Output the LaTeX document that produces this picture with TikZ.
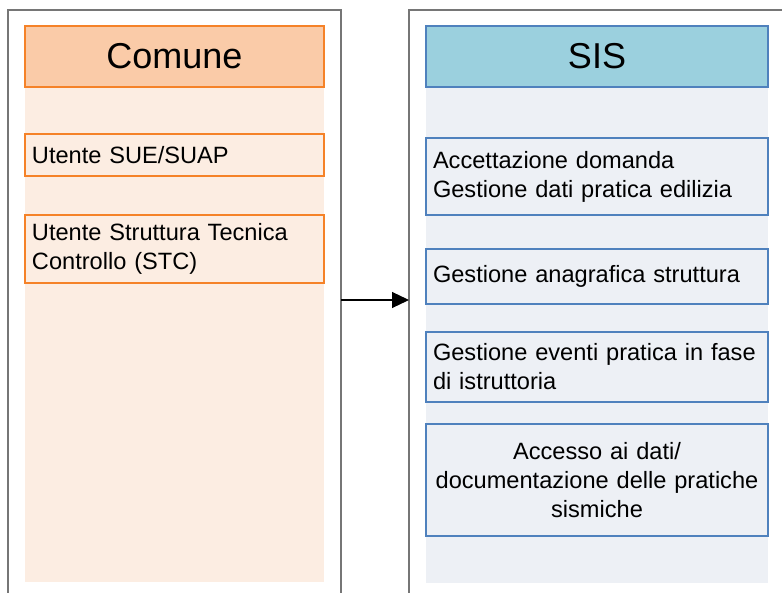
\documentclass[tikz,border=0pt]{standalone}
\usepackage{fontspec}
\setmainfont{Liberation Sans}
\usetikzlibrary{arrows.meta}

\definecolor{framegray}{RGB}{118,118,118}
\definecolor{orangeline}{RGB}{245,130,40}
\definecolor{orangehead}{RGB}{250,203,168}
\definecolor{orangebg}{RGB}{252,237,226}
\definecolor{blueline}{RGB}{79,129,189}
\definecolor{bluehead}{RGB}{155,208,222}
\definecolor{bluebg}{RGB}{237,240,245}

\begin{document}
\begin{tikzpicture}[x=0.5pt,y=-0.5pt]
		\tikzstyle{every node}=[rectangle, anchor=north west, outer sep=0pt]
		\tikzstyle{frame}=[draw=framegray, line width=0.8pt]
		\tikzstyle{head}=[line width=1pt, inner sep=0pt, minimum height=30.5pt, font=\fontsize{18}{21}\selectfont]
		\tikzstyle{item}=[line width=0.75pt, inner xsep=3.5pt, inner ysep=0pt, font=\fontsize{11.8}{14.5}\selectfont]
		\tikzstyle{itemL}=[item, draw=orangeline, fill=orangebg, text width=142.5pt, align=left]
		\tikzstyle{itemR}=[item, draw=blueline, fill=bluebg, text width=164pt, align=left]
		\useasboundingbox (0,0) rectangle (782,593);
		\clip (0,0) rectangle (782,593);
		
		% Frames
		\draw[frame] (8,600) -- (8,10) -- (341,10) -- (341,600);
		\draw[frame] (409,600) -- (409,10) -- (790,10);
		
		% Comune
		\fill[orangebg] (25,86) rectangle (324,582);
		\draw{
			(25,26)node[head, draw=orangeline, fill=orangehead, minimum width=149.5pt](comune){Comune}
			(25,134)node[itemL, minimum height=21pt](sue){Utente SUE/SUAP}
			(25,215)node[itemL, minimum height=34pt](stc){\mbox{Utente Struttura Tecnica}\\Controllo (STC)}
		};
		
		% SIS
		\fill[bluebg] (426,87) rectangle (768,583);
		\draw{
			(426,26)node[head, draw=blueline, fill=bluehead, minimum width=171pt](sis){SIS}
			(426,138)node[itemR, minimum height=38.5pt](accett){Accettazione domanda\\\mbox{Gestione dati pratica edilizia}}
			(426,249)node[itemR, minimum height=27.5pt](anagr){\mbox{Gestione anagrafica struttura}}
			(426,332)node[itemR, minimum height=35pt](eventi){\mbox{Gestione eventi pratica in fase}\\di istruttoria}
			(426,424)node[itemR, align=center, minimum height=56pt](accesso){Accesso ai dati/\\\mbox{documentazione delle pratiche}\\sismiche}
		};
		
		%Arrow
		\coordinate (out) at (341,300);
		\coordinate (in) at (409,300);
		\draw[line width=0.6pt, -{Triangle[length=8.5pt,width=8pt]}] (out) -- (in);
	\end{tikzpicture}
\end{document}
